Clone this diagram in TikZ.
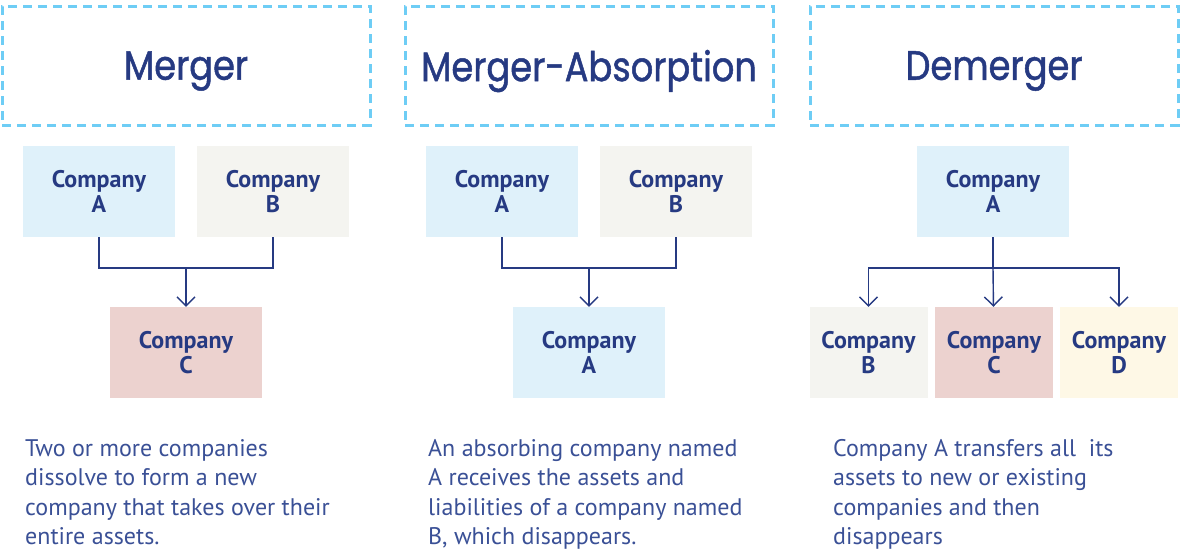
\documentclass[tikz,border=0pt]{standalone}
\usepackage{fontspec}
\setmainfont{PT Sans}
\newfontfamily\headfont[FakeStretch=0.86,FakeBold=1.2]{Poppins}
\usetikzlibrary{arrows.meta}
\usetikzlibrary{positioning}

\definecolor{navy}{RGB}{38,58,130}
\definecolor{textblue}{RGB}{58,80,150}
\definecolor{dashblue}{RGB}{110,205,245}
\definecolor{fillA}{RGB}{223,241,250}
\definecolor{fillB}{RGB}{244,244,240}
\definecolor{fillC}{RGB}{236,210,207}
\definecolor{fillD}{RGB}{254,248,230}

\tikzset{x=1pt, y=-1pt,
headbox/.style={ % dashed heading frame
draw=dashblue,
line width=3pt,
dash pattern=on 9pt off 6pt,
minimum width=368pt,
minimum height=119pt,
text depth=0pt,
text=navy,
font=\headfont\fontsize{41}{45}\selectfont},
company/.style={ % coloured company block
minimum width=152pt,
minimum height=91pt,
inner sep=0pt,
align=center,
text=navy,
font=\bfseries\fontsize{24}{25.5}\selectfont},
narrow/.style={minimum width=118pt},
note/.style={ % description under each column
anchor=north west,
inner sep=0pt,
align=left,
text=textblue,
font=\fontsize{24}{29.5}\selectfont},
link/.style={draw=navy, line width=1.4pt},
arr/.style={link, -{Straight Barb[length=9pt,width=18pt,line width=1.4pt]}}}

\begin{document}
\begin{tikzpicture}
\useasboundingbox (0,0) rectangle (1182,552);

% headings
\node[headbox] (h1) at (186,65.5) {Merger};
\node[headbox] (h2) at (589,65.5) {Merger-Absorption};
\node[headbox] (h3) at (994,65.5) {Demerger};

% merger
\node[company, fill=fillA] (mA) at (99,191.5) {Company\\A};
\node[company, fill=fillB] (mB) at (273,191.5) {Company\\B};
\node[company, fill=fillC] (mC) at (186,352.5) {Company\\C};
\coordinate (mJ) at (186,268);
\draw[link] (mA) |- (mJ) -| (mB);
\draw[arr] (mJ) -- (mC);

% merger-absorption
\node[company, fill=fillA] (aA) at (502,191.5) {Company\\A};
\node[company, fill=fillB] (aB) at (676,191.5) {Company\\B};
\node[company, fill=fillA] (aR) at (589,352.5) {Company\\A};
\coordinate (aJ) at (589,268);
\draw[link] (aA) |- (aJ) -| (aB);
\draw[arr] (aJ) -- (aR);

% demerger
\node[company, fill=fillA] (dA) at (993,191.5) {Company\\A};
\node[company, narrow, fill=fillB] (dB) at (868.5,352.5) {Company\\B};
\node[company, narrow, fill=fillC] (dC) at (994,352.5) {Company\\C};
\node[company, narrow, fill=fillD] (dD) at (1119,352.5) {Company\\D};
\coordinate (dJ) at (993,268);
\draw[link] (dA) -- (dJ);
\draw[arr] (dJ) -| (dB);
\draw[arr] (dJ) -- (dC);
\draw[arr] (dJ) -| (dD);

% descriptions
\node[note] (n1) at (25,439) {Two or more companies\\dissolve to form a new\\company that takes over their\\entire assets.};
\node[note] (n2) at (428,439) {An absorbing company named\\A receives the assets and\\liabilities of a company named\\B, which disappears.};
\node[note] (n3) at (833,439) {Company A transfers all~ its\\assets to new or existing\\companies and then\\disappears};
\end{tikzpicture}
\end{document}
